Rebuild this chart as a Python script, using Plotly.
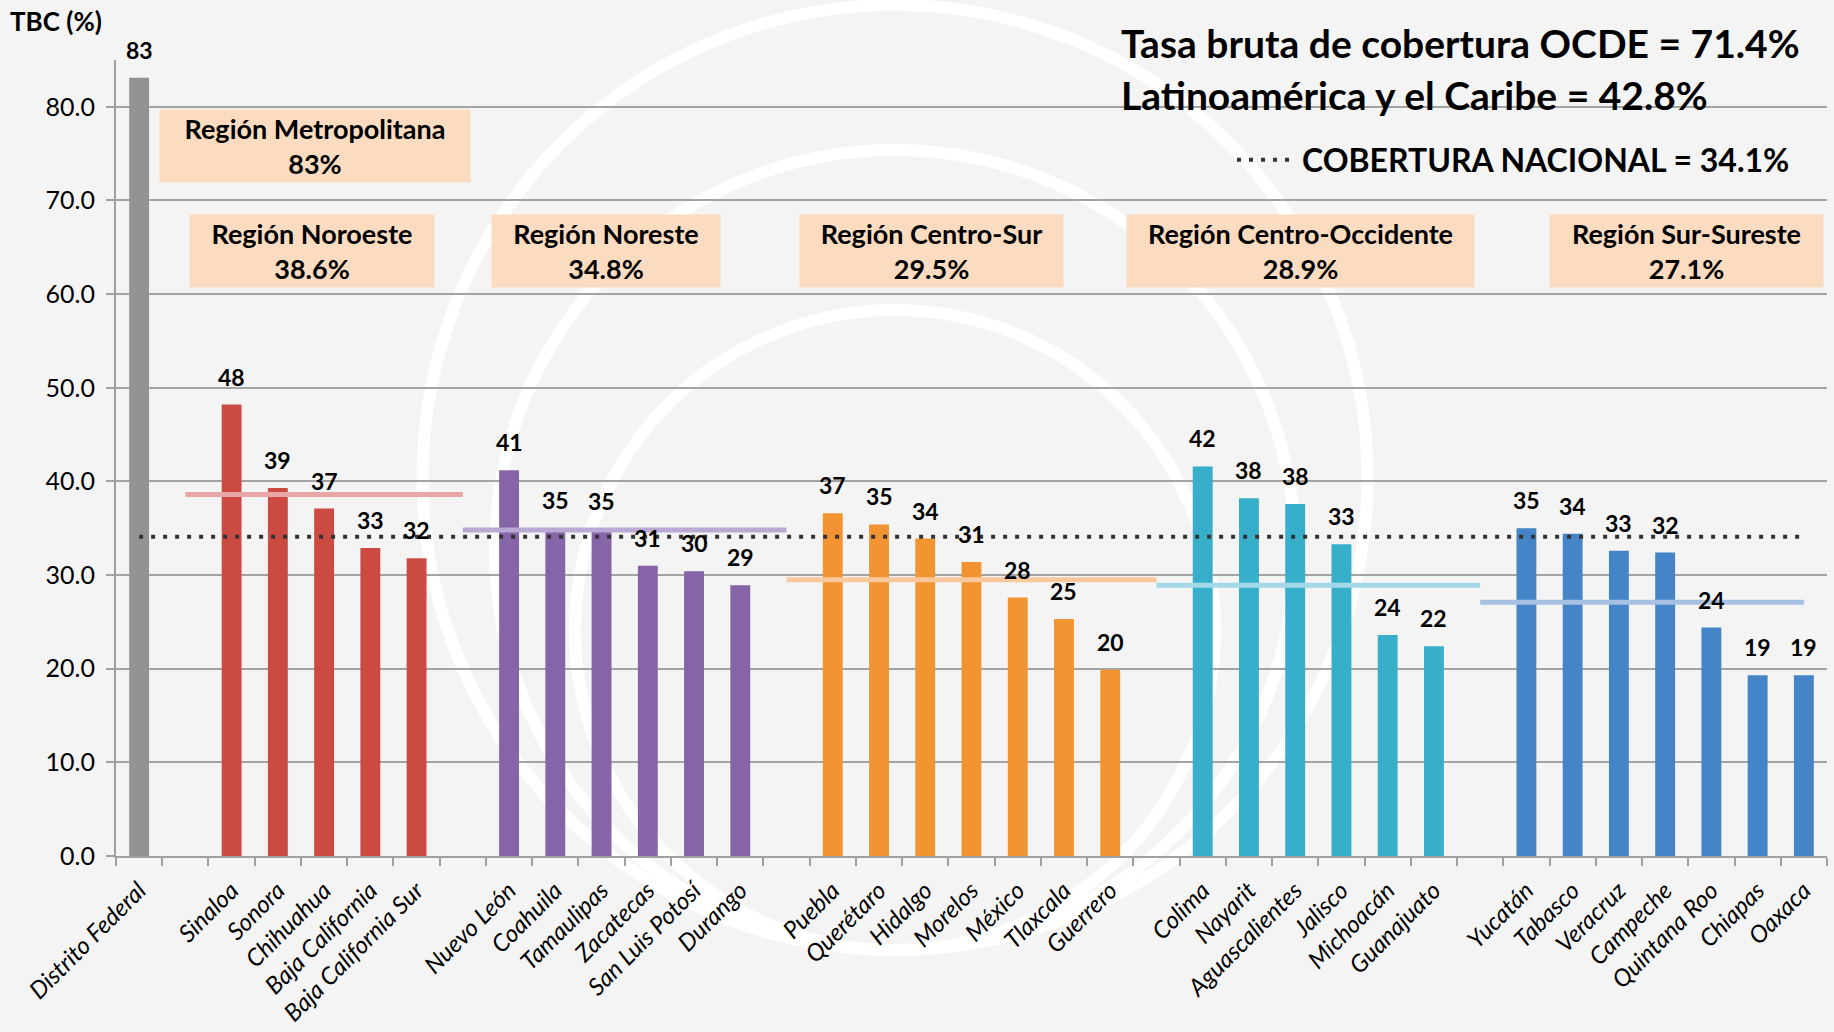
import plotly.graph_objects as go

# ---------------- data ----------------
categories = ["Distrito Federal", " ",
              "Sinaloa", "Sonora", "Chihuahua", "Baja California", "Baja California Sur", "  ",
              "Nuevo León", "Coahuila", "Tamaulipas", "Zacatecas", "San Luis Potosí", "Durango", "   ",
              "Puebla", "Querétaro", "Hidalgo", "Morelos", "México", "Tlaxcala", "Guerrero", "    ",
              "Colima", "Nayarit", "Aguascalientes", "Jalisco", "Michoacán", "Guanajuato", "     ",
              "Yucatán", "Tabasco", "Veracruz", "Campeche", "Quintana Roo", "Chiapas", "Oaxaca"]

metro_states = ["Distrito Federal"]
metro_values = [83.1]
noroeste_states = ["Sinaloa", "Sonora", "Chihuahua", "Baja California", "Baja California Sur"]
noroeste_values = [48.2, 39.3, 37.1, 32.9, 31.8]
noreste_states = ["Nuevo León", "Coahuila", "Tamaulipas", "Zacatecas", "San Luis Potosí", "Durango"]
noreste_values = [41.2, 35.0, 34.9, 31.0, 30.4, 28.9]
centro_sur_states = ["Puebla", "Querétaro", "Hidalgo", "Morelos", "México", "Tlaxcala", "Guerrero"]
centro_sur_values = [36.6, 35.4, 33.9, 31.4, 27.6, 25.3, 19.9]
centro_occ_states = ["Colima", "Nayarit", "Aguascalientes", "Jalisco", "Michoacán", "Guanajuato"]
centro_occ_values = [41.6, 38.2, 37.6, 33.3, 23.6, 22.4]
sur_states = ["Yucatán", "Tabasco", "Veracruz", "Campeche", "Quintana Roo", "Chiapas", "Oaxaca"]
sur_values = [35.0, 34.4, 32.6, 32.4, 24.4, 19.3, 19.3]

region_names = ["Región Metropolitana", "Región Noroeste", "Región Noreste",
                "Región Centro-Sur", "Región Centro-Occidente", "Región Sur-Sureste"]
region_averages = [83, 38.6, 34.8, 29.5, 28.9, 27.1]
# span of each regional average line (category at each end); metro has none
region_line_spans = [None, (" ", "  "), ("  ", "   "), ("   ", "    "),
                     ("    ", "     "), ("     ", "Oaxaca")]

national_coverage = 34.1
national_span = ("Distrito Federal", "Oaxaca")
ocde_rate = 71.4
lac_rate = 42.8

y_ticks = [0, 10, 20, 30, 40, 50, 60, 70, 80]

# ---------------- styles ----------------
W, H = 1834, 1032
ML, MR, MT, MB = 116, 7, 60, 176
PW, PH = W - ML - MR, H - MT - MB
FONT = "Lato"

bar_colors = ["#939393", "#CB4B43", "#8565A7", "#F39432", "#37AECA", "#4584C6"]
line_colors = [None, "#E8A6A6", "#BBA9D5", "#FBC79C", "#A3D8E8", "#A6C1E2"]
box_color = "#FBDCC0"
# region box geometry in pixels: (center x, center y, width, height)
box_geom = [(315, 146, 310, 72), (312, 251, 244, 72), (606, 251, 228, 72),
            (931, 251, 263, 72), (1300, 251, 347, 72), (1686, 251, 273, 72)]


def px2x(px):
    return (px - ML) / PW


def px2y(py):
    return (H - MB - py) / PH


groups = [(metro_states, metro_values), (noroeste_states, noroeste_values),
          (noreste_states, noreste_values), (centro_sur_states, centro_sur_values),
          (centro_occ_states, centro_occ_values), (sur_states, sur_values)]

fig = go.Figure()

for (states, vals), color, name in zip(groups, bar_colors, region_names):
    fig.add_trace(go.Bar(x=states, y=vals, name=name, marker_color=color,
                         marker_line_width=0, width=0.43, showlegend=False,
                         hoverinfo="x+y"))

for span, avg, color, name in zip(region_line_spans, region_averages, line_colors, region_names):
    if span is None:
        continue
    fig.add_trace(go.Scatter(x=list(span), y=[avg, avg], mode="lines",
                             line=dict(color=color, width=5), showlegend=False,
                             name=name, hoverinfo="y"))

fig.add_trace(go.Scatter(x=list(national_span), y=[national_coverage] * 2, mode="lines",
                         line=dict(color="#333333", width=4, dash="4px,8px"),
                         name="<b>COBERTURA NACIONAL = %.1f%%</b>" % national_coverage,
                         showlegend=True, hoverinfo="y"))

annotations = []
# value labels above bars
for states, vals in groups:
    for s, v in zip(states, vals):
        annotations.append(dict(x=s, y=v, xref="x", yref="y", text="<b>%.0f</b>" % v,
                                showarrow=False, yanchor="bottom", yshift=12,
                                font=dict(family=FONT, size=23, color="black")))

# region boxes
for name, avg, (cx, cy, bw, bh) in zip(region_names, region_averages, box_geom):
    avg_txt = ("%g%%" % avg)
    annotations.append(dict(x=px2x(cx), y=px2y(cy), xref="paper", yref="paper",
                            text="<b>%s</b><br><b>%s</b>" % (name, avg_txt),
                            showarrow=False, xanchor="center", yanchor="middle",
                            width=bw, height=bh, bgcolor=box_color, borderpad=0,
                            font=dict(family=FONT, size=27, color="black")))

annotations.append(dict(x=px2x(1119), y=px2y(43), xref="paper", yref="paper",
                        text="<b>Tasa bruta de cobertura OCDE = %.1f%%</b>" % ocde_rate,
                        showarrow=False, xanchor="left", yanchor="middle",
                        font=dict(family=FONT, size=39, color="black")))
annotations.append(dict(x=px2x(1119), y=px2y(95), xref="paper", yref="paper",
                        text="<b>Latinoamérica y el Caribe = %.1f%%</b>" % lac_rate,
                        showarrow=False, xanchor="left", yanchor="middle",
                        font=dict(family=FONT, size=39, color="black")))
annotations.append(dict(x=px2x(8), y=px2y(21), xref="paper", yref="paper",
                        text="<b>TBC (%)</b>", showarrow=False, xanchor="left",
                        yanchor="middle", font=dict(family=FONT, size=26, color="black")))

# decorative white rings (pixel geometry: top, bottom, center x)
ring_tops = [5, 150, 310]
ring_bottom = 950
ring_cx = 895
shapes = []
for top in ring_tops:
    r = (ring_bottom - top) / 2
    shapes.append(dict(type="circle", xref="paper", yref="paper", layer="below",
                       x0=px2x(ring_cx - r), x1=px2x(ring_cx + r),
                       y0=px2y(ring_bottom), y1=px2y(top),
                       line=dict(color="white", width=12), fillcolor="rgba(0,0,0,0)"))

fig.update_layout(
    width=W, height=H,
    margin=dict(l=ML, r=MR, t=MT, b=MB, autoexpand=False),
    paper_bgcolor="#F4F4F4", plot_bgcolor="rgba(0,0,0,0)",
    barmode="overlay",
    font=dict(family=FONT, color="black"),
    annotations=annotations, shapes=shapes,
    legend=dict(x=px2x(1795), y=px2y(160), xanchor="right", yanchor="middle",
                bgcolor="rgba(0,0,0,0)", font=dict(family=FONT, size=32, color="black"),
                itemwidth=60),
    xaxis=dict(type="category", categoryorder="array", categoryarray=categories,
               range=[-0.5, len(categories) - 0.5], tickson="boundaries",
               ticks="outside", ticklen=8, tickwidth=2, tickcolor="#A0A0A0",
               showline=True, linecolor="#A0A0A0", linewidth=2, showgrid=False,
               tickangle=-45, ticklabelstandoff=9,
               tickfont=dict(family=FONT, size=24, style="italic", color="black")),
    yaxis=dict(range=[0, 85], tickvals=y_ticks, tickformat=".1f",
               ticks="outside", ticklen=8, tickwidth=2, tickcolor="#A0A0A0",
               showline=True, linecolor="#A0A0A0", linewidth=2,
               showgrid=True, gridcolor="#A3A3A3", gridwidth=2, zeroline=False,
               ticklabelstandoff=6,
               tickfont=dict(family=FONT, size=25, color="black")),
)

fig.write_html("out.html", config={"displayModeBar": False},
               post_script="document.body.style.margin='0';document.body.style.overflow='hidden';")
